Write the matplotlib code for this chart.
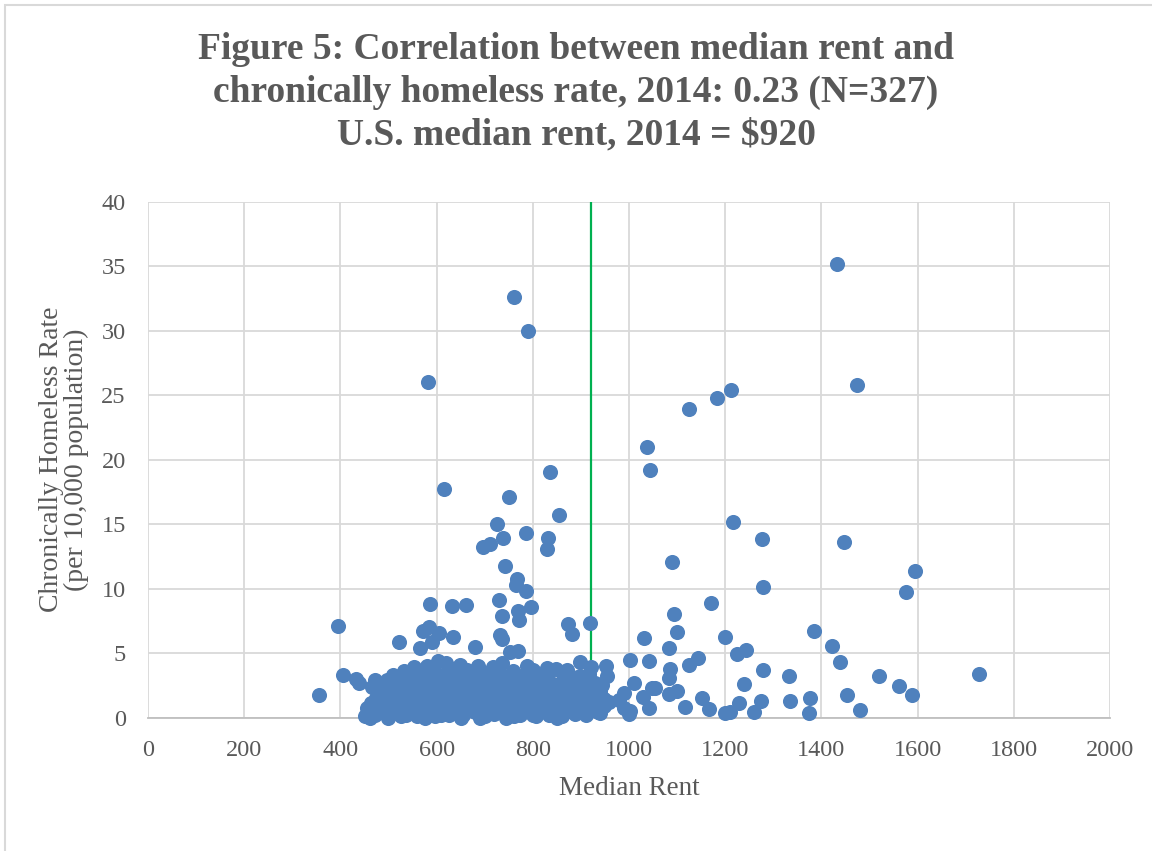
import matplotlib.pyplot as plt
from matplotlib.patches import Rectangle

# outlying points
out_rent = [355, 395, 405, 433, 439, 465, 472, 522, 586, 631, 661, 730, 765, 767, 786,
            737, 770, 772, 796, 874, 882, 919, 585, 572, 605, 591, 635, 732, 737, 753,
            770, 680, 565, 760, 789, 583, 615, 750, 835, 854, 726, 739, 786, 696, 710,
            832, 830, 742, 829, 898, 921, 871, 882,
            1433, 1475, 1182, 1212, 1125, 1037, 1043, 1217, 1277, 1447,
            1090, 1278, 1595, 1576, 1171, 1093, 1100, 1032, 1199, 1083,
            1385, 1423, 1439, 1225, 1244, 1124, 1144, 1003, 1041, 1086,
            1084, 1279, 1333, 1520, 1562, 1588, 1727, 1240, 1010, 1048,
            1055, 1100, 1083, 1029, 1041, 1116, 1152, 1166, 1199, 1211,
            1228, 1260, 1274, 1334, 1376, 1375, 1453, 1480, 989, 989,
            1003, 999, 952, 955, 940, 947, 940, 980]
out_rate = [1.76, 7.1, 3.3, 3.0, 2.67, 2.4, 2.95, 5.85, 8.8, 8.62, 8.74, 9.13, 10.3, 10.75, 9.8,
            7.9, 8.25, 7.6, 8.55, 7.25, 6.45, 7.33, 7.0, 6.75, 6.55, 5.9, 6.28, 6.4, 6.1, 5.1,
            5.2, 5.45, 5.4, 32.6, 30.0, 26.05, 17.73, 17.13, 19.07, 15.69, 15.04, 13.9, 14.34, 13.26, 13.44,
            13.9, 13.08, 11.74, 3.83, 4.3, 3.95, 3.7, 3.18,
            35.17, 25.8, 24.8, 25.4, 23.9, 21.0, 19.2, 15.17, 13.83, 13.65,
            12.07, 10.15, 11.35, 9.77, 8.9, 8.0, 6.67, 6.15, 6.25, 5.38,
            6.75, 5.58, 4.34, 4.9, 5.25, 4.09, 4.6, 4.47, 4.42, 3.8,
            3.1, 3.7, 3.23, 3.26, 2.46, 1.77, 3.39, 2.62, 2.67, 2.3,
            2.28, 2.08, 1.87, 1.6, 0.78, 0.83, 1.55, 0.65, 0.34, 0.44,
            1.16, 0.47, 1.32, 1.32, 1.5, 0.39, 1.76, 0.6, 1.9, 0.73,
            0.55, 0.25, 4.0, 3.2, 2.1, 1.45, 0.35, 1.4]

# the dense block of points between about $450 and $960
core_rent = [452, 455, 458, 461, 464, 468, 471, 474, 477, 480, 483, 486,
             489, 492, 494, 497, 499, 502, 504, 507, 509, 512, 515, 517,
             519, 522, 525, 527, 530, 533, 536, 538, 541, 543, 546, 548,
             551, 553, 556, 559, 561, 563, 566, 569, 571, 574, 576, 579,
             581, 584, 587, 589, 592, 594, 597, 600, 602, 605, 608, 611,
             613, 616, 619, 622, 624, 627, 630, 633, 636, 638, 641, 644,
             646, 649, 652, 655, 658, 661, 663, 666, 669, 672, 675, 677,
             680, 683, 686, 689, 691, 694, 697, 700, 703, 706, 708, 711,
             714, 717, 720, 722, 725, 728, 731, 734, 736, 739, 742, 745,
             748, 750, 753, 756, 759, 762, 764, 767, 770, 773, 776, 778,
             781, 784, 787, 790, 792, 795, 798, 801, 804, 806, 809, 812,
             815, 818, 820, 823, 826, 829, 832, 834, 837, 840, 843, 846,
             848, 851, 854, 857, 860, 862, 865, 868, 871, 874, 876, 879,
             882, 885, 888, 890, 893, 896, 899, 902, 904, 907, 910, 913,
             916, 918, 921, 924, 927, 930, 932, 935, 938, 944, 949, 958,
             560, 610, 650, 700, 745, 800, 525, 575, 625, 690, 760, 850]
core_rate = [0.1, 0.75, 0.3, 0.0, 1.1, 0.5, 0.2, 1.5, 0.9, 0.6, 1.9, 1.2,
             2.2, 0.4, 1.6, 2.9, 0.0, 1.0, 2.5, 1.8, 3.3, 0.7, 2.0, 1.3,
             3.0, 0.3, 1.6, 2.6, 0.9, 3.6, 0.2, 2.1, 1.1, 3.0, 0.5, 2.3,
             1.8, 3.9, 0.4, 2.8, 1.5, 3.4, 0.9, 2.0, 1.2, 3.1, 0.3, 2.5,
             4.0, 1.7, 0.6, 2.2, 1.4, 3.6, 0.1, 2.9, 4.4, 1.9, 0.8, 3.2,
             2.5, 1.1, 4.2, 0.3, 2.7, 1.6, 3.8, 0.9, 2.1, 1.3, 3.4, 0.5,
             2.4, 4.1, 1.8, 0.2, 2.9, 1.0, 3.7, 1.6, 2.2, 0.8, 3.2, 1.9,
             0.4, 2.6, 4.0, 1.4, 2.4, 0.1, 3.5, 1.0, 2.9, 0.6, 3.0, 1.8,
             2.3, 3.9, 0.3, 1.2, 2.7, 0.8, 3.4, 1.9, 4.2, 0.4, 2.1, 1.5,
             3.1, 0.1, 2.6, 1.0, 3.6, 2.0, 0.6, 2.8, 1.4, 0.2, 2.4, 1.7,
             3.3, 0.9, 4.0, 1.3, 2.9, 0.5, 2.0, 3.7, 1.1, 0.1, 1.8, 2.6,
             0.8, 3.2, 1.4, 0.6, 2.3, 1.2, 3.0, 0.2, 1.9, 0.5, 2.2, 1.1,
             3.8, 0.3, 2.6, 1.5, 0.1, 2.9, 1.4, 0.7, 2.3, 1.9, 0.5, 2.5,
             1.0, 3.1, 0.3, 2.2, 1.5, 0.9, 3.2, 1.9, 0.6, 2.6, 0.2, 1.5,
             3.4, 0.7, 1.2, 2.0, 0.8, 2.7, 1.7, 0.4, 1.4, 2.5, 0.9, 1.2,
             0.1, 0.2, 0.0, 0.1, 0.0, 0.2, 0.1, 0.0, 0.2, 0.0, 0.1, 0.0]

us_median_rent = 920

title = ('Figure 5: Correlation between median rent and\n'
         'chronically homeless rate, 2014: 0.23 (N=327)\n'
         'U.S. median rent, 2014 = $920')

grey = '#595959'
blue = '#4f81bd'

fig = plt.figure(figsize=(11.52, 8.51), dpi=100)
ax = fig.add_axes([0.1285, 0.1567, 0.835, 0.6063])

ax.axvline(us_median_rent, color='#00b050', lw=1.6, zorder=2)
ax.scatter(out_rent + core_rent, out_rate + core_rate, s=118, color=blue,
           linewidths=0, zorder=3, clip_on=False)

ax.set_xlim(0, 2000)
ax.set_ylim(0, 40)
ax.set_xticks(range(0, 2001, 200))
ax.set_yticks(range(0, 41, 5))
ax.grid(True, color='#d9d9d9', lw=1.3, zorder=0)
ax.set_axisbelow(True)
for side in ['top', 'right', 'left']:
    ax.spines[side].set_visible(False)
ax.spines['bottom'].set_color('#bfbfbf')
ax.spines['bottom'].set_linewidth(1.3)
ax.tick_params(length=0, labelsize=17.5, labelcolor=grey)
ax.tick_params(axis='x', pad=16)
ax.tick_params(axis='y', pad=16)
for lab in ax.get_xticklabels() + ax.get_yticklabels():
    lab.set_family('Liberation Serif')

ax.set_xlabel('Median Rent', family='Liberation Serif', fontsize=19.5, color=grey, labelpad=11)
ax.set_ylabel('Chronically Homeless Rate\n(per 10,000 population)', family='Liberation Serif',
              fontsize=20, color=grey, labelpad=9, linespacing=1.0)

fig.text(0.5, 0.962, title, ha='center', va='top', family='Liberation Serif',
         fontweight='bold', fontsize=27, color=grey, linespacing=1.27)

fig.patches.append(Rectangle((0.004, -0.01), 1.2, 1.004, transform=fig.transFigure,
                             fill=False, edgecolor='#d9d9d9', lw=1.5))

fig.savefig('out.png', dpi=100)
